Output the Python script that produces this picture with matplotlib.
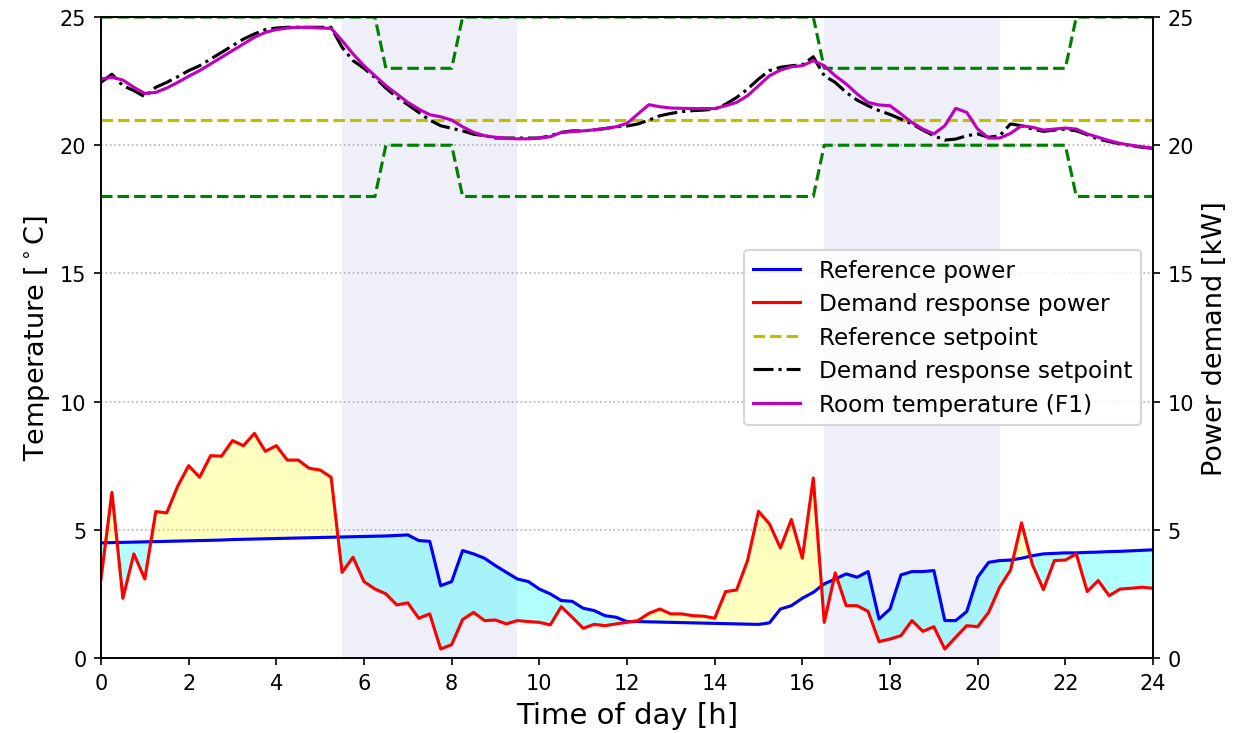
import numpy as np
import matplotlib
matplotlib.use('Agg')
import matplotlib.pyplot as plt

# 15-minute samples over one day
hours = np.arange(97) * 0.25

reference_power = [
    4.49, 4.50, 4.51, 4.52, 4.53, 4.54, 4.55, 4.56, 4.57, 4.58, 4.59, 4.60,
    4.62, 4.63, 4.64, 4.65, 4.66, 4.67, 4.68, 4.69, 4.70, 4.71, 4.72, 4.73,
    4.74, 4.75, 4.76, 4.78, 4.80, 4.58, 4.55, 2.82, 2.98, 4.19, 4.06, 3.89,
    3.60, 3.34, 3.08, 2.98, 2.69, 2.50, 2.24, 2.21, 1.94, 1.85, 1.65, 1.59,
    1.42, 1.42, 1.41, 1.40, 1.39, 1.38, 1.37, 1.36, 1.35, 1.34, 1.33, 1.32,
    1.31, 1.37, 1.91, 2.04, 2.33, 2.56, 2.89, 3.08, 3.28, 3.15, 3.37, 1.52,
    1.91, 3.24, 3.37, 3.37, 3.41, 1.46, 1.46, 1.81, 3.15, 3.73, 3.80, 3.82,
    3.89, 3.99, 4.06, 4.08, 4.10, 4.10, 4.12, 4.13, 4.15, 4.16, 4.18, 4.20,
    4.22]

dr_power = [
    3.08, 6.46, 2.33, 4.06, 3.08, 5.71, 5.66, 6.70, 7.50, 7.05, 7.89, 7.87,
    8.48, 8.28, 8.76, 8.06, 8.28, 7.72, 7.72, 7.40, 7.33, 7.05, 3.34, 3.93,
    2.98, 2.69, 2.50, 2.07, 2.15, 1.55, 1.72, 0.35, 0.52, 1.50, 1.78, 1.46,
    1.48, 1.33, 1.46, 1.42, 1.39, 1.29, 2.00, 1.59, 1.16, 1.31, 1.26, 1.33,
    1.39, 1.46, 1.74, 1.91, 1.72, 1.72, 1.65, 1.63, 1.55, 2.59, 2.65, 3.80,
    5.72, 5.23, 4.29, 5.40, 3.89, 7.02, 1.39, 3.32, 2.04, 2.04, 1.82, 0.64,
    0.74, 0.87, 1.46, 1.04, 1.22, 0.35, 0.81, 1.26, 1.22, 1.78, 2.76, 3.43,
    5.27, 3.64, 2.67, 3.80, 3.82, 4.06, 2.59, 3.02, 2.43, 2.69, 2.72, 2.76,
    2.72]

dr_setpoint = [
    22.45, 22.77, 22.32, 22.13, 21.89, 22.26, 22.45, 22.67, 22.91, 23.10, 23.36, 23.62,
    23.88, 24.14, 24.34, 24.51, 24.57, 24.60, 24.60, 24.60, 24.60, 24.60, 23.82, 23.30,
    23.00, 22.64, 22.23, 21.87, 21.58, 21.28, 20.98, 20.76, 20.66, 20.56, 20.43, 20.37,
    20.28, 20.28, 20.28, 20.28, 20.28, 20.37, 20.50, 20.56, 20.56, 20.60, 20.65, 20.72,
    20.75, 20.83, 20.98, 21.15, 21.24, 21.31, 21.35, 21.37, 21.41, 21.60, 21.86, 22.19,
    22.58, 22.91, 23.04, 23.10, 23.14, 23.45, 22.71, 22.45, 22.06, 21.76, 21.54, 21.35,
    21.20, 21.02, 20.83, 20.59, 20.37, 20.20, 20.24, 20.37, 20.44, 20.31, 20.37, 20.83,
    20.76, 20.63, 20.54, 20.59, 20.63, 20.56, 20.41, 20.24, 20.14, 20.05, 19.98, 19.92,
    19.88]

room_temp = [
    22.58, 22.65, 22.54, 22.26, 22.02, 22.06, 22.23, 22.45, 22.69, 22.91, 23.17, 23.43,
    23.69, 23.95, 24.21, 24.40, 24.51, 24.57, 24.60, 24.59, 24.57, 24.56, 24.08, 23.56,
    23.10, 22.71, 22.32, 22.00, 21.67, 21.41, 21.19, 21.11, 20.98, 20.72, 20.50, 20.37,
    20.31, 20.27, 20.25, 20.25, 20.28, 20.33, 20.50, 20.53, 20.56, 20.60, 20.65, 20.72,
    20.85, 21.22, 21.58, 21.50, 21.45, 21.44, 21.43, 21.43, 21.43, 21.54, 21.67, 21.93,
    22.32, 22.71, 22.93, 23.06, 23.10, 23.30, 23.10, 22.71, 22.39, 22.00, 21.67, 21.57,
    21.54, 21.22, 20.89, 20.63, 20.44, 20.76, 21.44, 21.28, 20.63, 20.28, 20.28, 20.46,
    20.76, 20.70, 20.59, 20.63, 20.67, 20.63, 20.44, 20.31, 20.18, 20.07, 20.00, 19.94,
    19.88]

ref_setpoint = 21.0

# comfort band (breakpoints)
band_t = [0, 6.25, 6.5, 8.0, 8.25, 16.25, 16.5, 22.0, 22.25, 24]
band_upper = [25, 25, 23, 23, 25, 25, 23, 23, 25, 25]
band_lower = [18, 18, 20, 20, 18, 18, 20, 20, 18, 18]

# demand response events
events = [(5.5, 9.5), (16.5, 20.5)]

ref = np.array(reference_power)
dr = np.array(dr_power)

fig, ax = plt.subplots(figsize=(8.26, 4.893), dpi=150)
fig.subplots_adjust(left=0.0815, right=0.9306, bottom=0.1022, top=0.9755)

for start, end in events:
    ax.axvspan(start, end, color='#dcdcf2', alpha=0.45, lw=0)

ax.yaxis.grid(True, linestyle=':', color='gray', alpha=0.6)
ax.plot(band_t, band_upper, 'g--')
ax.plot(band_t, band_lower, 'g--')
l3, = ax.plot(hours, [ref_setpoint] * len(hours), 'y--', label='Reference setpoint')
l4, = ax.plot(hours, dr_setpoint, 'k-.', label='Demand response setpoint')
l5, = ax.plot(hours, room_temp, 'm-', label='Room temperature (F1)')
ax.set_xlim(0, 24)
ax.set_ylim(0, 25)
ax.set_xticks(range(0, 25, 2))
ax.set_yticks(range(0, 26, 5))
ax.set_xlabel('Time of day [h]', fontsize=14)
ax.set_ylabel(r'Temperature [$^\circ$C]', fontsize=13)

ax2 = ax.twinx()
ax2.fill_between(hours, ref, dr, where=dr >= ref, interpolate=True,
                 color='yellow', alpha=0.25, lw=0)
ax2.fill_between(hours, ref, dr, where=dr < ref, interpolate=True,
                 color='cyan', alpha=0.3, lw=0)
l1, = ax2.plot(hours, ref, 'b-', label='Reference power')
l2, = ax2.plot(hours, dr, 'r-', label='Demand response power')
ax2.set_ylim(0, 25)
ax2.set_yticks(range(0, 26, 5))
ax2.set_ylabel('Power demand [kW]', fontsize=13)

handles = [l1, l2, l3, l4, l5]
ax2.legend(handles, [h.get_label() for h in handles], loc='center right',
           fontsize=11.2, labelspacing=0.45)

plt.savefig('out.png', dpi=150)
